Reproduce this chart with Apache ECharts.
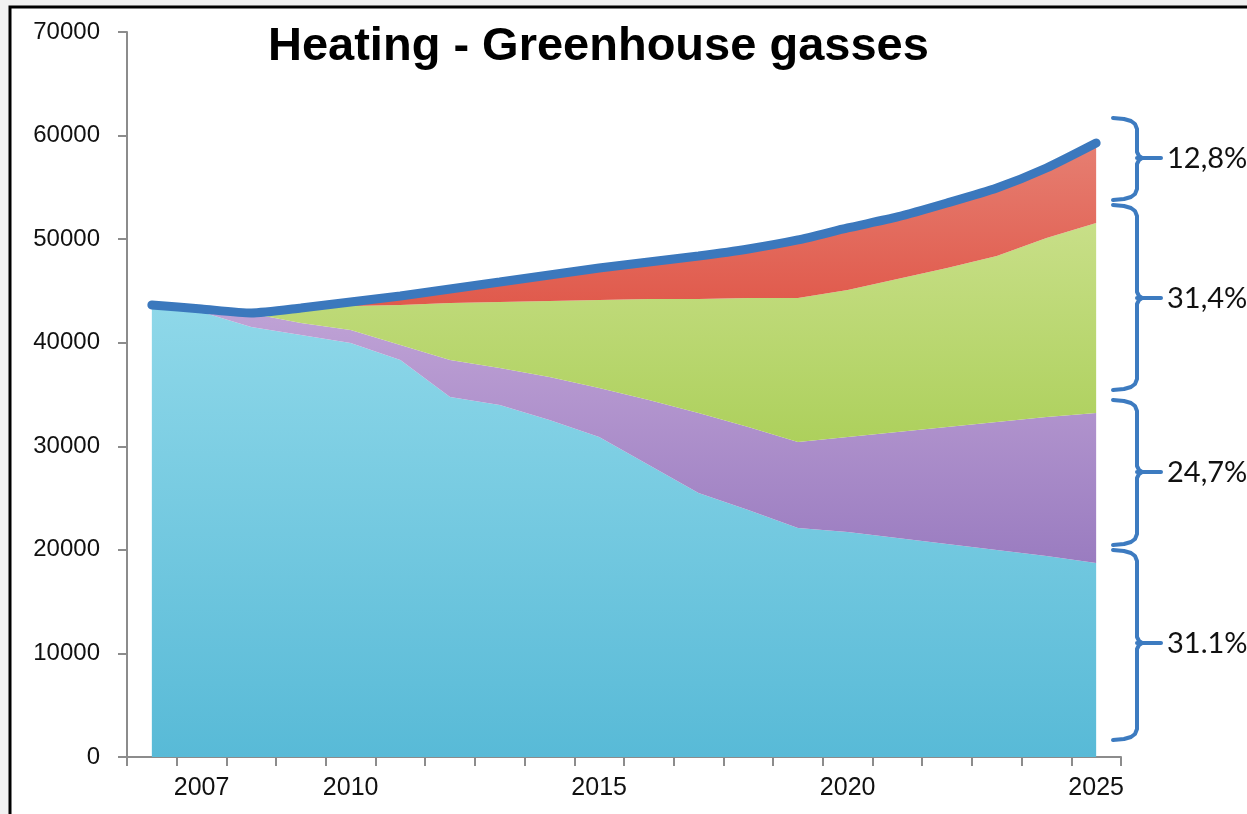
<!DOCTYPE html>
<html>
<head>
<meta charset="utf-8">
<title>Heating - Greenhouse gasses</title>
<script src="https://cdn.jsdelivr.net/npm/echarts@6/dist/echarts.min.js"></script>
<style>
  html, body { margin: 0; padding: 0; background: #f1f1f1; }
  #chart { width: 1247px; height: 814px; }
</style>
</head>
<body>
<div id="chart"></div>
<script>
// years on the x axis, one category per year
var years = ['2006', '2007', '2008', '2009', '2010', '2011', '2012', '2013', '2014', '2015',
  '2016', '2017', '2018', '2019', '2020', '2021', '2022', '2023', '2024', '2025']
var yearLabels = ['2007', '2010', '2015', '2020', '2025']

// stacked layers, bottom to top
var blueLayer = [43640, 42970, 41520, 40750, 39970, 38330, 34760, 33990, 32540, 30900,
  28190, 25490, 23850, 22110, 21720, 21150, 20570, 19990, 19410, 18730]
var purpleLayer = [0, 290, 1300, 1150, 1260, 1450, 3570, 3570, 4150, 4730,
  6280, 7720, 8010, 8300, 9180, 10230, 11290, 12360, 13420, 14480]
var greenLayer = [0, 0, 50, 1450, 2320, 3860, 5500, 6370, 7340, 8490,
  9750, 11010, 12460, 13910, 14200, 14770, 15350, 16020, 17280, 18350]
var redLayer = [0, 0, 0, 0, 380, 870, 1360, 1930, 2510, 3090,
  3570, 4150, 4730, 5600, 5980, 5990, 6280, 6570, 6760, 7720]

// share labels next to the brackets, top to bottom
var shareLabels = ['12,8%', '31,4%', '24,7%', '31.1%']

var chart = echarts.init(document.getElementById('chart'))

function grad(top, bottom) {
  return new echarts.graphic.LinearGradient(0, 0, 0, 1, [
    { offset: 0, color: top },
    { offset: 1, color: bottom }
  ])
}

// bracket "}" shapes on the right side: top, bottom, middle
var brackets = [[118, 200, 158], [205, 390, 298], [400, 545, 472], [550, 740, 643]]
var bx = 1137
var graphics = [
  {
    type: 'rect',
    z: -10,
    shape: { x: 10, y: 7, width: 1400, height: 1000 },
    style: { fill: '#ffffff', stroke: '#000000', lineWidth: 3 }
  }
]
brackets.forEach(function(b, i) {
  var t = b[0], btm = b[1], m = b[2]
  graphics.push({
    type: 'polyline',
    z: 10,
    shape: {
      points: [
        [1113, t], [1124, t + 1], [1131, t + 3], [1135, t + 6], [bx, t + 11],
        [bx, m - 6], [bx + 2, m - 2], [bx + 5, m],
        [bx + 2, m + 2], [bx, m + 6],
        [bx, btm - 11], [1135, btm - 6], [1131, btm - 3], [1124, btm - 1], [1113, btm]
      ]
    },
    style: { fill: null, stroke: '#3d7bc0', lineWidth: 4, lineJoin: 'round', lineCap: 'round' }
  })
  graphics.push({
    type: 'line',
    z: 10,
    shape: { x1: bx, y1: m, x2: 1161, y2: m },
    style: { stroke: '#3d7bc0', lineWidth: 4, lineCap: 'round' }
  })
  graphics.push({
    type: 'text',
    z: 10,
    x: 1167,
    y: m + 1,
    style: {
      text: shareLabels[i],
      fill: '#111',
      font: '29px Lato',
      verticalAlign: 'middle'
    }
  })
})

var option = {
  backgroundColor: '#f1f1f1',
  animation: false,
  title: {
    text: 'Heating - Greenhouse gasses',
    left: 263,
    top: 19,
    textStyle: {
      fontFamily: 'Liberation Sans',
      fontSize: 47,
      fontWeight: 'bold',
      color: '#000'
    }
  },
  grid: { left: 127, right: 126, top: 32, bottom: 57 },
  xAxis: {
    type: 'category',
    boundaryGap: true,
    data: years,
    axisLine: { lineStyle: { color: '#8c8c8c', width: 2 } },
    axisTick: { show: true, interval: 0, length: 9, lineStyle: { color: '#8c8c8c', width: 2 } },
    axisLabel: {
      interval: function(idx, val) { return yearLabels.indexOf(val) >= 0 },
      margin: 19,
      color: '#111',
      fontFamily: 'Liberation Sans',
      fontSize: 25
    },
    splitLine: { show: false }
  },
  yAxis: {
    type: 'value',
    min: 0,
    max: 70000,
    interval: 10000,
    axisLine: { show: true, lineStyle: { color: '#8c8c8c', width: 2 } },
    axisTick: { show: true, length: 9, lineStyle: { color: '#8c8c8c', width: 2 } },
    axisLabel: {
      margin: 27,
      color: '#111',
      fontFamily: 'Liberation Sans',
      fontSize: 24,
      formatter: function(v) { return String(v) }
    },
    splitLine: { show: false }
  },
  graphic: graphics,
  series: [
    {
      type: 'line', stack: 'total', data: blueLayer, symbol: 'none',
      lineStyle: { width: 0 },
      areaStyle: { color: grad('#8fd8e9', '#58bad7'), opacity: 1 }
    },
    {
      type: 'line', stack: 'total', data: purpleLayer, symbol: 'none',
      lineStyle: { width: 0 },
      areaStyle: { color: grad('#c0a3d6', '#9a7cc0'), opacity: 1 }
    },
    {
      type: 'line', stack: 'total', data: greenLayer, symbol: 'none',
      lineStyle: { width: 0 },
      areaStyle: { color: grad('#c8df88', '#add05c'), opacity: 1 }
    },
    {
      type: 'line', stack: 'total', data: redLayer, symbol: 'none',
      smooth: 0.2,
      lineStyle: { width: 9, color: '#3b78bd', cap: 'round' },
      areaStyle: { color: grad('#e67f72', '#e0584a'), opacity: 1 }
    }
  ]
}

chart.setOption(option)
</script>
</body>
</html>
